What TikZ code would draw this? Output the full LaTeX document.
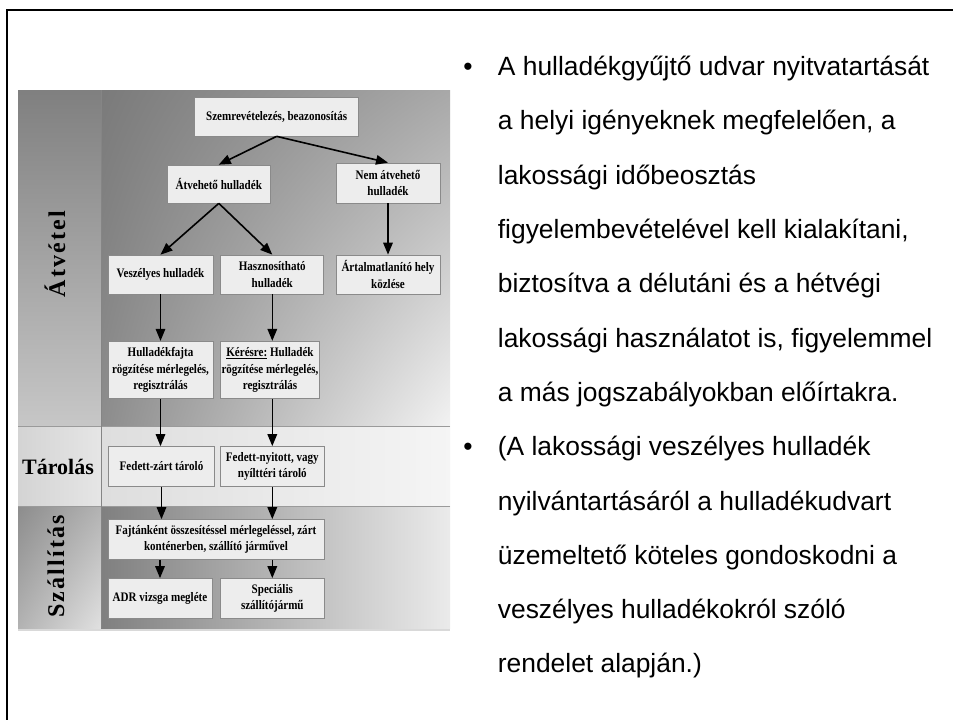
\documentclass[tikz,border=0pt]{standalone}
\usepackage{fontspec}
\setmainfont{Liberation Serif}
\newfontfamily\boxfont[FakeStretch=0.85]{Liberation Serif}
\newfontfamily\sidefont[LetterSpace=9]{Liberation Serif}
\newfontfamily\sideplain{Liberation Serif}
\newfontfamily\bodyfont{Liberation Sans}
\usetikzlibrary{arrows.meta,shadings}
\definecolor{boxfill}{HTML}{EDEDED}
\definecolor{boxline}{HTML}{8A8A8A}
\definecolor{sepline}{HTML}{9A9A9A}
\begin{document}
\begin{tikzpicture}[x=1pt,y=-1pt,
  fbox/.style={draw=boxline, fill=boxfill, line width=0.7pt,
    font=\boxfont\bfseries\fontsize{13}{16.5}\selectfont, align=center,
    inner xsep=1pt, inner ysep=0pt, minimum height=39pt},
  arr/.style={-{Triangle[length=12pt,width=9.5pt]}, line width=1.6pt, black},
  side/.style={font=\sidefont\bfseries\fontsize{24}{26}\selectfont, inner sep=0pt},
  sideh/.style={font=\sideplain\bfseries\fontsize{22}{26}\selectfont, inner sep=0pt},
  txt/.style={font=\bodyfont\fontsize{26.4}{30}\selectfont, anchor=base west, inner sep=0pt},
  bul/.style={font=\bodyfont\fontsize{26.4}{30}\selectfont, anchor=base, inner sep=0pt}
]
\useasboundingbox (0,0) rectangle (953,720);
\fill[white] (0,0) rectangle (953,720);
% frame
\draw[line width=2pt] (7,721) -- (7,10) -- (954,10);

% ---- flowchart background ----
% Atvetel band
\shade[top color={black!50}, bottom color={black!22}] (18,90) rectangle (101,426);
\shade[upper left={black!52}, upper right={black!34}, lower left={black!45}, lower right={black!5}] (101,90) rectangle (450,426);
% Tarolas band
\shade[left color={black!17}, right color={black!10}] (18,426) rectangle (101,506);
\shade[left color={black!13}, right color={black!4}] (101,426) rectangle (450,506);
% Szallitas band
\shade[upper left={black!45}, upper right={black!30}, lower left={black!30}, lower right={black!12}] (18,506) rectangle (101,628);
\shade[left color={black!50}, right color={black!8}] (101,506) rectangle (450,628);
% separators
\draw[sepline, line width=0.8pt] (18,426) -- (450,426);
\draw[sepline, line width=0.8pt] (18,506) -- (450,506);
\draw[black!48, line width=0.8pt] (101,90) -- (101,628);
\draw[black!15, line width=2pt] (18,629.5) -- (450,629.5);

% ---- side labels ----
\node[side, rotate=90] (l1) at (55,254) {Átvétel};
\node[sideh] (l2) at (58,467) {Tárolás};
\node[side, rotate=90] (l3) at (56,566.5) {Szállítás};

% ---- boxes ----
\node[fbox, minimum width=164pt] (sz) at (276.6,116.5) {Szemrevételezés, beazonosítás};
\node[fbox, minimum width=103.5pt, minimum height=38pt] (atv) at (218.8,184) {Átvehető hulladék};
\node[fbox, minimum width=104pt, minimum height=40pt] (nem) at (388,183) {Nem átvehető\\hulladék};
\node[fbox, minimum width=105pt] (vesz) at (160.5,274.5) {Veszélyes hulladék};
\node[fbox, minimum width=103pt] (hasz) at (272.3,274.5) {Hasznosítható\\hulladék};
\node[fbox, minimum width=104pt] (art) at (388,274.5) {Ártalmatlanító hely\\közlése};
\node[fbox, minimum width=105pt, minimum height=57.5pt] (hf) at (160.5,370) {Hulladékfajta\\rögzítése mérlegelés,\\regisztrálás};
\node[fbox, minimum width=98pt, minimum height=57.5pt] (ker) at (270,370) {\underline{Kérésre:} Hulladék\\rögzítése mérlegelés,\\regisztrálás};
\node[fbox, minimum width=106pt, minimum height=40pt] (fz) at (161.5,466.5) {Fedett-zárt tároló};
\node[fbox, minimum width=104pt, minimum height=40pt] (fny) at (272.3,466.5) {Fedett-nyitott, vagy\\nyílttéri tároló};
\node[fbox, minimum width=216pt, minimum height=40pt] (faj) at (216,539.5) {Fajtánként összesítéssel mérlegeléssel, zárt\\konténerben, szállító járművel};
\node[fbox, minimum width=104pt, minimum height=40pt] (adr) at (160,598.5) {ADR vizsga megléte};
\node[fbox, minimum width=104pt, minimum height=40pt] (spec) at (272.3,598.5) {Speciális\\szállítójármű};

% ---- arrows ----
\draw[arr] (sz.south) -- (atv.north);
\draw[arr] (sz.south) -- (nem.north);
\draw[arr] (atv.south) -- (vesz.north);
\draw[arr] (atv.south) -- (hasz.north);
\draw[arr] (nem.south) -- (art.north);
\draw[arr] (vesz.south) -- (hf.north);
\draw[arr] (hasz.south) -- (hasz.south |- ker.north);
\draw[arr] (hf.south) -- (hf.south |- fz.north);
\draw[arr] (fny.north |- ker.south) -- (fny.north);
\draw[arr] (fz.south) -- (fz.south |- faj.north);
\draw[arr] (fny.south) -- (fny.south |- faj.north);
\draw[arr] (adr.north |- faj.south) -- (adr.north);
\draw[arr] (spec.north |- faj.south) -- (spec.north);

% ---- right text ----
\node[bul] (b1) at (468,75.6) {•};
\node[bul] (b2) at (468,455.7) {•};
\foreach \i/\t in {
  1/{A hulladékgyűjtő udvar nyitvatartását},
  2/{a helyi igényeknek megfelelően, a},
  3/{lakossági időbeosztás},
  4/{figyelembevételével kell kialakítani,},
  5/{biztosítva a délutáni és a hétvégi},
  6/{lakossági használatot is, figyelemmel},
  7/{a más jogszabályokban előírtakra.},
  8/{(A lakossági veszélyes hulladék},
  9/{nyilvántartásáról a hulladékudvart},
  10/{üzemeltető köteles gondoskodni a},
  11/{veszélyes hulladékokról szóló},
  12/{rendelet alapján.)}}
  \node[txt] (t\i) at (497.7,{75.6+(\i-1)*54.3}) {\t};
\end{tikzpicture}
\end{document}
